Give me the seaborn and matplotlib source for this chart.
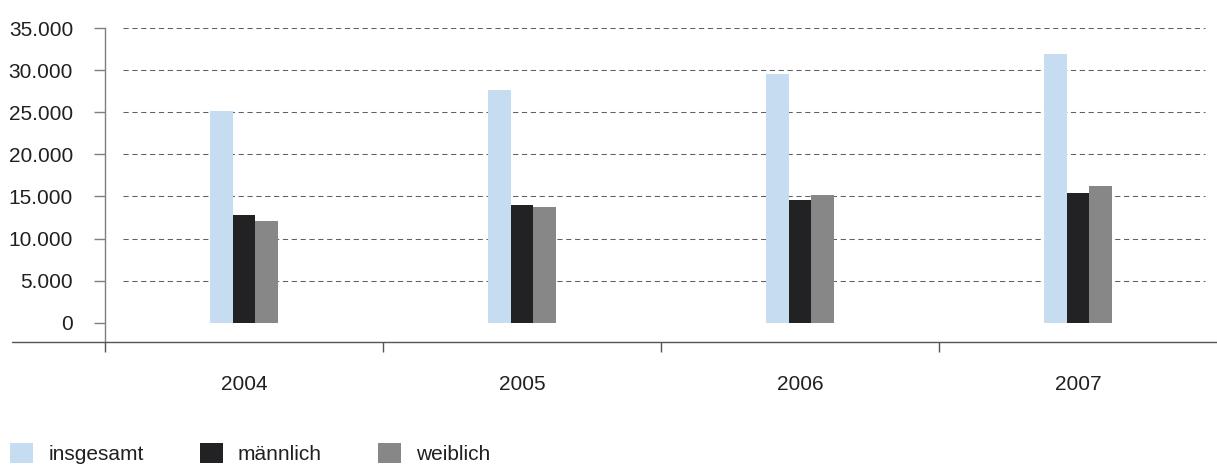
import numpy as np
import pandas as pd
import matplotlib.pyplot as plt
import seaborn as sns
from matplotlib.patches import Patch
from matplotlib.ticker import FuncFormatter

# values
jahre = ['2004', '2005', '2006', '2007']
insgesamt = [25100, 27600, 29500, 31900]
maennlich = [12800, 14000, 14600, 15400]
weiblich = [12100, 13700, 15200, 16200]

gruppen = ['insgesamt', 'männlich', 'weiblich']
farben = ['#c6ddf1', '#222224', '#878788']

df = pd.DataFrame({
    'Jahr': jahre * 3,
    'Gruppe': np.repeat(gruppen, len(jahre)),
    'Wert': insgesamt + maennlich + weiblich,
})

sns.set_style('white')
plt.rcParams['font.family'] = ['Liberation Sans', 'DejaVu Sans']
text_color = '#231f20'
fs = 15

W, H = 1217, 470
fig = plt.figure(figsize=(W / 100, H / 100), dpi=100)
ax = fig.add_axes([105 / W, (H - 342) / H, 1112 / W, (342 - 28) / H])

sns.barplot(data=df, x='Jahr', y='Wert', hue='Gruppe', hue_order=gruppen,
            palette=farben, width=0.245, gap=0, saturation=1, ax=ax,
            legend=False, errorbar=None, zorder=2, linewidth=0)

ax.set_xlim(-0.5, 3.5)
ax.set_ylim(-2292, 35000)

# dashed gridlines (not at zero)
for v in range(5000, 35001, 5000):
    ax.axhline(v, xmin=18 / 1112, xmax=1100 / 1112, color='#606060',
               lw=0.75, ls=(0, (5, 3.5)), zorder=0)

ax.set_yticks(range(0, 35001, 5000))
ax.yaxis.set_major_formatter(FuncFormatter(lambda v, p: format(int(v), ',').replace(',', '.')))
ax.tick_params(axis='y', left=True, length=8, width=1, color='#7f7f7f',
               pad=15, labelsize=fs, labelcolor=text_color)

ax.set_xticks(range(4))
ax.set_xticklabels(jahre)
ax.set_xticks([-0.5, 0.5, 1.5, 2.5], minor=True)
ax.tick_params(axis='x', which='major', length=0, pad=24, labelsize=fs,
               labelcolor=text_color)
ax.tick_params(axis='x', which='minor', bottom=True, length=7.5, width=1,
               color='#555555')

ax.set_xlabel('')
ax.set_ylabel('')
for s in ['top', 'right']:
    ax.spines[s].set_visible(False)
ax.spines['left'].set_color('#7f7f7f')
ax.spines['left'].set_linewidth(1)
ax.spines['bottom'].set_color('#555555')
ax.spines['bottom'].set_linewidth(1)
ax.plot([-(105 - 12) / 1112, 0], [0, 0], transform=ax.transAxes,
        clip_on=False, color='#555555', lw=1)

handles = [Patch(facecolor=c, edgecolor='none', label=g) for g, c in zip(gruppen, farben)]
fig.legend(handles=handles, loc='lower left', bbox_to_anchor=(0 / W, -4 / H),
           ncol=3, frameon=False, fontsize=fs, handlelength=1.1, handleheight=1.1,
           handletextpad=0.72, columnspacing=2.7, borderpad=0, labelcolor=text_color)

fig.savefig('out.png', dpi=100)
